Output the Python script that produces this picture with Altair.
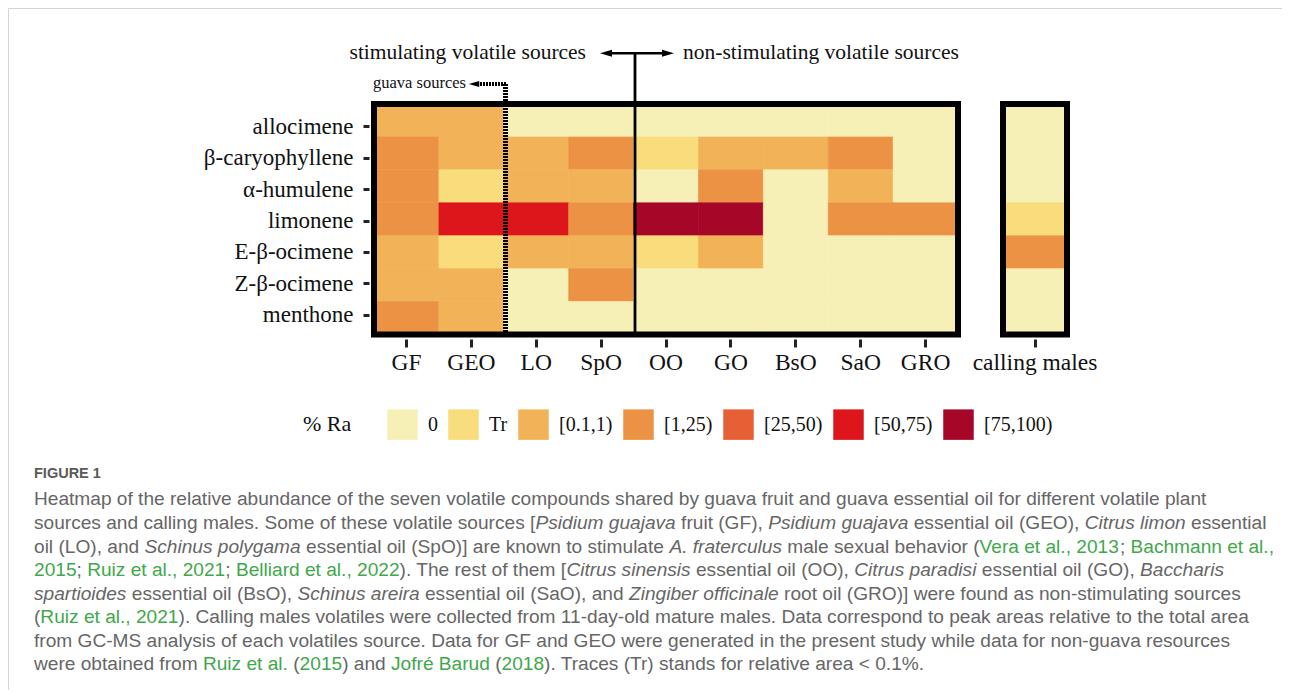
import altair as alt
import pandas as pd

# ---------------- data ----------------
compounds = ["allocimene", "β-caryophyllene", "α-humulene", "limonene",
             "E-β-ocimene", "Z-β-ocimene", "menthone"]
sources = ["GF", "GEO", "LO", "SpO", "OO", "GO", "BsO", "SaO", "GRO"]
levels = ["0", "Tr", "[0.1,1)", "[1,25)", "[25,50)", "[50,75)", "[75,100)"]
level_colors = ["#F7F0B6", "#F9DC7B", "#F2B257", "#EC9245", "#E65F35", "#DC161B", "#A60628"]

allocimene = ["[0.1,1)", "[0.1,1)", "0", "0", "0", "0", "0", "0", "0"]
caryophyllene = ["[1,25)", "[0.1,1)", "[0.1,1)", "[1,25)", "Tr", "[0.1,1)", "[0.1,1)", "[1,25)", "0"]
humulene = ["[1,25)", "Tr", "[0.1,1)", "[0.1,1)", "0", "[1,25)", "0", "[0.1,1)", "0"]
limonene = ["[1,25)", "[50,75)", "[50,75)", "[1,25)", "[75,100)", "[75,100)", "0", "[1,25)", "[1,25)"]
e_ocimene = ["[0.1,1)", "Tr", "[0.1,1)", "[0.1,1)", "Tr", "[0.1,1)", "0", "0", "0"]
z_ocimene = ["[0.1,1)", "[0.1,1)", "0", "[1,25)", "0", "0", "0", "0", "0"]
menthone = ["[1,25)", "[0.1,1)", "0", "0", "0", "0", "0", "0", "0"]
calling_males = ["0", "0", "0", "Tr", "[1,25)", "0", "0"]

rows_by_compound = [allocimene, caryophyllene, humulene, limonene, e_ocimene, z_ocimene, menthone]

heat_df = pd.DataFrame([
    {"compound": c, "source": s, "level": lv}
    for c, row in zip(compounds, rows_by_compound)
    for s, lv in zip(sources, row)
])
cm_df = pd.DataFrame([
    {"compound": c, "panel": "calling males", "level": lv}
    for c, lv in zip(compounds, calling_males)
])

# caption text (content + style flag: n normal, i italic, g green link)
caption_lines = [
    [("Heatmap of the relative abundance of the seven volatile compounds shared by guava fruit and guava essential oil for different volatile plant", "n")],
    [("sources and calling males. Some of these volatile sources [", "n"), ("Psidium guajava", "i"), (" fruit (GF), ", "n"),
     ("Psidium guajava", "i"), (" essential oil (GEO), ", "n"), ("Citrus limon", "i"), (" essential", "n")],
    [("oil (LO), and ", "n"), ("Schinus polygama", "i"), (" essential oil (SpO)] are known to stimulate ", "n"),
     ("A. fraterculus", "i"), (" male sexual behavior (", "n"), ("Vera et al., 2013", "g"), ("; ", "n"),
     ("Bachmann et al.,", "g")],
    [("2015", "g"), ("; ", "n"), ("Ruiz et al., 2021", "g"), ("; ", "n"), ("Belliard et al., 2022", "g"),
     ("). The rest of them [", "n"), ("Citrus sinensis", "i"), (" essential oil (OO), ", "n"),
     ("Citrus paradisi", "i"), (" essential oil (GO), ", "n"), ("Baccharis", "i")],
    [("spartioides", "i"), (" essential oil (BsO), ", "n"), ("Schinus areira", "i"),
     (" essential oil (SaO), and ", "n"), ("Zingiber officinale", "i"),
     (" root oil (GRO)] were found as non-stimulating sources", "n")],
    [("(", "n"), ("Ruiz et al., 2021", "g"),
     ("). Calling males volatiles were collected from 11-day-old mature males. Data correspond to peak areas relative to the total area", "n")],
    [("from GC-MS analysis of each volatiles source. Data for GF and GEO were generated in the present study while data for non-guava resources", "n")],
    [("were obtained from ", "n"), ("Ruiz et al.", "g"), (" (", "n"), ("2015", "g"), (") and ", "n"),
     ("Jofré Barud", "g"), (" (", "n"), ("2018", "g"), ("). Traces (Tr) stands for relative area < 0.1%.", "n")],
]

# ---------------- layout helpers ----------------
W, H = 1274, 682


def P(v):
    """page pixel -> chart pixel (8px page margin)"""
    return v - 8


SERIF = "Liberation Serif"
SANS = "Liberation Sans"

# Helvetica/Arial advance widths (per 1000 em) for caption placement
HW = {' ': 278, '(': 333, ')': 333, '[': 278, ']': 278, ',': 278, '.': 278, ';': 278, ':': 278,
      '-': 333, '%': 889, '<': 584, 'é': 556,
      'A': 667, 'B': 667, 'C': 722, 'D': 722, 'E': 667, 'F': 611, 'G': 778, 'H': 722, 'I': 278,
      'J': 500, 'K': 667, 'L': 556, 'M': 833, 'N': 722, 'O': 778, 'P': 667, 'Q': 778, 'R': 722,
      'S': 667, 'T': 611, 'U': 722, 'V': 667, 'W': 944, 'X': 667, 'Y': 667, 'Z': 611,
      'a': 556, 'b': 556, 'c': 500, 'd': 556, 'e': 556, 'f': 278, 'g': 556, 'h': 556, 'i': 222,
      'j': 222, 'k': 500, 'l': 222, 'm': 833, 'n': 556, 'o': 556, 'p': 556, 'q': 556, 'r': 333,
      's': 500, 't': 278, 'u': 556, 'v': 500, 'w': 722, 'x': 500, 'y': 500, 'z': 500}
for d in "0123456789":
    HW[d] = 556


def tw(s):
    return sum(HW.get(ch, 556) for ch in s) / 1000.0


def line_w(segs):
    return tw("".join(t for t, _ in segs))


CAP_X0 = 34
cap_fs = min((1221 - CAP_X0) / line_w(caption_lines[0]),
             (1274 - CAP_X0) / line_w(caption_lines[2]))
line_y = [499, 523, 546.5, 570, 593.5, 617, 640.5, 664]

seg_records = []
for ly, segs in zip(line_y, caption_lines):
    x = CAP_X0
    for text, style in segs:
        lead = len(text) - len(text.lstrip(" "))
        xs = x + tw(" " * lead) * cap_fs
        seg_records.append({"x": P(xs), "y": P(ly), "text": text.strip(), "style": style})
        x += tw(text) * cap_fs
seg_df = pd.DataFrame(seg_records)

one = alt.Data(values=[{}])

# ---------------- heatmap ----------------
color_scale = alt.Scale(domain=levels, range=level_colors)
legend = alt.Legend(
    orient="none", legendX=P(303), legendY=P(409), direction="horizontal", columns=7,
    title="% Ra", titleOrient="left", titleFont=SERIF, titleFontSize=22, titleFontWeight="normal",
    titleColor="#111", titlePadding=35, titleBaseline="middle", titleAnchor="middle",
    symbolType="square", symbolSize=930, symbolStrokeWidth=0, symbolOpacity=1,
    labelFont=SERIF, labelFontSize=20, labelColor="#111", labelOffset=10, columnPadding=10,
    padding=0,
)

x_axis_common = dict(orient="bottom", offset=P(339) - H, title=None, labelAngle=0,
                     labelFont=SERIF, labelFontSize=23.5, labelColor="#111",
                     tickSize=8, tickWidth=3, tickColor="#222", domain=False, grid=False,
                     labelPadding=3)

cell_y = alt.Scale(domain=compounds, range=[P(104), P(334.5)], paddingInner=0, paddingOuter=0)

heat = alt.Chart(heat_df).mark_rect(strokeWidth=0.6).encode(
    x=alt.X("source:N", sort=sources,
            scale=alt.Scale(domain=sources, range=[P(374), P(958)], paddingInner=0, paddingOuter=0),
            axis=alt.Axis(**x_axis_common)),
    y=alt.Y("compound:N", sort=compounds, scale=cell_y, axis=None),
    color=alt.Color("level:N", scale=color_scale, legend=legend),
    stroke=alt.Stroke("level:N", scale=color_scale, legend=None),
)

cm = alt.Chart(cm_df).mark_rect(strokeWidth=0.6).encode(
    x=alt.X("panel:N",
            scale=alt.Scale(domain=["calling males"], range=[P(1003), P(1067)], paddingInner=0, paddingOuter=0),
            axis=alt.Axis(**x_axis_common)),
    y=alt.Y("compound:N", sort=compounds, scale=cell_y, axis=None),
    color=alt.Color("level:N", scale=color_scale, legend=legend),
    stroke=alt.Stroke("level:N", scale=color_scale, legend=None),
)

# compound axis: in the original figure the tick labels sit on a slightly tighter pitch
y_axis_layer = alt.Chart(cm_df).mark_tick(opacity=0).encode(
    y=alt.Y("compound:N", sort=compounds,
            scale=alt.Scale(domain=compounds, range=[P(111), P(331)], paddingInner=0, paddingOuter=0),
            axis=alt.Axis(orient="left", offset=-P(369), title=None, labelFont=SERIF,
                          labelFontSize=23, labelColor="#111", tickSize=6, tickWidth=3,
                          tickColor="#222", domain=False, grid=False, labelPadding=10)),
    x=alt.value(P(370)),
)


# ---------------- decorations ----------------
def frame(x1, x2, y1, y2, w=6):
    return alt.Chart(one).mark_rect(fillOpacity=0, stroke="black", strokeWidth=w).encode(
        x=alt.value(P(x1)), x2=alt.value(P(x2)), y=alt.value(P(y1)), y2=alt.value(P(y2)))


def rule(x1, y1, x2=None, y2=None, w=2.5, color="black", dash=None):
    kw = dict(strokeWidth=w, color=color)
    if dash:
        kw["strokeDash"] = dash
    enc = dict(x=alt.value(P(x1)), y=alt.value(P(y1)))
    if x2 is not None:
        enc["x2"] = alt.value(P(x2))
    if y2 is not None:
        enc["y2"] = alt.value(P(y2))
    return alt.Chart(one).mark_rule(**kw).encode(**enc)


def head(xc, yc, left=True, size=144, color="black"):
    shape = "M-1,0L1,-0.58L1,0.58Z" if left else "M1,0L-1,-0.58L-1,0.58Z"
    return alt.Chart(one).mark_point(shape=shape, filled=True, size=size, color=color,
                                     opacity=1, strokeWidth=0).encode(
        x=alt.value(P(xc)), y=alt.value(P(yc)))


def label(txt, x, y, size, align="left", font=SERIF, color="#111", weight="normal"):
    return alt.Chart(one).mark_text(text=txt, align=align, baseline="middle", font=font,
                                    fontSize=size, color=color, fontWeight=weight).encode(
        x=alt.value(P(x)), y=alt.value(P(y)))


decor = [
    rule(505.5, 84, y2=334, w=5, color="#000", dash=[2, 1]),
    rule(480, 84, x2=507, w=4, color="#000", dash=[2, 1]),
    head(474, 84, left=True, size=110),
    label("guava sources", 466, 83, 16.5, align="right"),
    frame(374, 958, 104, 334.5),
    frame(1003, 1067, 104, 334.5),
    rule(635, 53.3, y2=334.5, w=2.8),
    rule(606, 53.3, x2=668, w=2.4),
    head(606, 53.3, left=True),
    head(668, 53.3, left=False),
    label("stimulating volatile sources", 586, 53, 21.5, align="right"),
    label("non-stimulating volatile sources", 683, 53, 21.5, align="left"),
    label("FIGURE 1", CAP_X0, 474, 14.5, font=SANS, color="#5a5a5a", weight="bold"),
    rule(8.5, 8.5, x2=1290, w=1, color="#d4d4d4"),
    rule(8.5, 8.5, y2=698, w=1, color="#d4d4d4"),
]

cap_styles = {"n": dict(color="#666666"), "i": dict(color="#666666", fontStyle="italic"),
              "g": dict(color="#3fa84a")}
cap_layers = []
for st, kw in cap_styles.items():
    cap_layers.append(
        alt.Chart(seg_df).transform_filter(alt.datum.style == st).mark_text(
            align="left", baseline="middle", font=SANS, fontSize=cap_fs, **kw).encode(
            x=alt.X("x:Q", scale=None, axis=None),
            y=alt.Y("y:Q", scale=None, axis=None),
            text="text:N")
    )

chart = alt.layer(heat, cm, y_axis_layer, *decor, *cap_layers).resolve_scale(
    x="independent", y="independent"
).resolve_axis(x="independent", y="independent").properties(
    width=W, height=H, autosize=alt.AutoSizeParams(type="none"), padding=0,
    background="white"
).configure_view(stroke=None)

chart.save("out.html", embed_options={"renderer": "svg", "actions": False})
